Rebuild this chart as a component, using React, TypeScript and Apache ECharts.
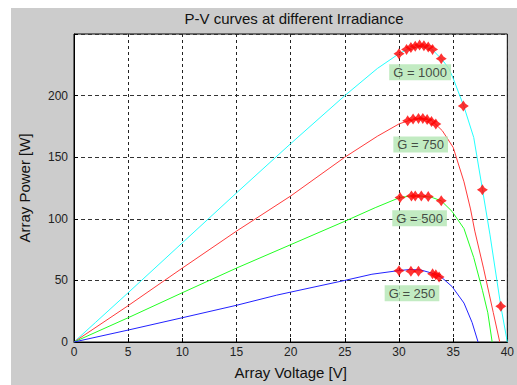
import React, { useEffect, useRef } from "react";
import * as echarts from "echarts";

const title = "P-V curves at different Irradiance";
const xName = "Array Voltage [V]";
const yName = "Array Power [W]";

const g1000V = [0, 2, 5, 10, 15, 20, 25, 28, 30, 31, 32, 33, 34, 34.6, 35, 36, 36.9, 37.7, 38.4, 39.4, 40];
const g1000P = [0, 16, 40, 80.5, 121, 161, 200, 222, 234, 238.5, 240, 238, 229, 222, 214, 191, 166, 124, 87, 29, 0];

const g750V = [0, 5, 10, 15, 20, 25, 28, 30, 31, 32, 33, 34, 35, 36, 36.6, 37, 37.8, 38.7, 39.3];
const g750P = [0, 29.5, 60, 90, 118.5, 150, 167, 177, 180, 181.5, 180, 171.5, 158, 130, 108, 90, 60, 24, 0];

const g500V = [0, 5, 10, 15, 20, 25, 27.8, 30, 31, 32, 33, 33.9, 34.9, 36, 36.9, 37.7, 38.2, 38.6];
const g500P = [0, 19.7, 40, 60, 79, 98, 109, 117, 118.5, 118.5, 117.5, 114.6, 106, 92, 68.5, 42, 23.7, 0];

const g250V = [0, 5, 10, 15, 18.7, 20, 25, 27.5, 30, 31, 32, 33, 33.9, 34.9, 36, 36.75, 37.3];
const g250P = [0, 9.7, 19.7, 29.8, 38, 40.5, 50, 55, 58, 58.8, 58.5, 56, 52.7, 45, 31.6, 15.8, 0];

const mpptV = [30, 30.7, 31.1, 31.5, 31.9, 32.3, 32.7, 33.1, 33.9, 35.94, 37.7, 39.4,
  30.8, 31.3, 31.8, 32.2, 32.6, 33.0, 33.4,
  30.1, 31.15, 31.5, 32.06, 32.7, 33.9,
  30, 31.1, 31.8, 33.1, 33.4, 33.7];
const mpptP = [234, 237.5, 239, 240, 241, 240.5, 239.5, 237.5, 230, 191.5, 123.5, 29,
  179.5, 181, 181.5, 181.5, 180.5, 179, 177,
  117.2, 118.5, 118.5, 118.5, 118, 114.6,
  57.9, 57.4, 57.4, 55.3, 54.5, 52.7];

const labelTexts = ["G = 1000", "G = 750", "G = 500", "G = 250"];
const labelV = [31.95, 32.0, 31.9, 31.2];
const labelP = [218.9, 160.4, 100.4, 39.5];

const xTicks = [0, 5, 10, 15, 20, 25, 30, 35, 40];
const yTicks = [0, 50, 100, 150, 200];

const FONT = "'Liberation Sans', Arial, sans-serif";

function pairs(v: number[], p: number[]) {
  return v.map((x, i) => [x, p[i]]);
}

export default function App() {
  const ref = useRef<HTMLDivElement>(null);
  useEffect(() => {
    document.body.style.margin = "0";
    const chart = echarts.init(ref.current!, null, { renderer: "svg" });
    const lineBase = (name: string, color: string, v: number[], p: number[]) => ({
      name,
      type: "line",
      data: pairs(v, p),
      showSymbol: false,
      symbol: "none",
      lineStyle: { color, width: 1 },
      z: 3,
    });
    chart.setOption({
      animation: false,
      backgroundColor: "#ffffff",
      graphic: [
        {
          type: "rect",
          shape: { x: 11, y: 8, width: 506, height: 377 },
          style: { fill: "#cccccc" },
          z: -100,
          silent: true,
        },
        {
          type: "text",
          x: 294,
          y: 18,
          style: {
            text: title,
            fill: "#111",
            font: `15px ${FONT}`,
            textAlign: "center",
            textVerticalAlign: "middle",
          },
          z: 10,
        },
      ],
      grid: {
        left: 74,
        top: 34,
        right: 3,
        bottom: 35,
        show: true,
        backgroundColor: "#ffffff",
        borderColor: "#000",
        borderWidth: 1,
      },
      xAxis: {
        type: "value",
        min: 0,
        max: 40,
        interval: 5,
        name: xName,
        nameLocation: "middle",
        nameGap: 23,
        nameTextStyle: { fontSize: 15, color: "#111", fontFamily: FONT },
        axisLine: { show: true, lineStyle: { color: "#000" } },
        axisTick: { show: true, inside: true, length: 4, lineStyle: { color: "#000" } },
        axisLabel: {
          fontSize: 12,
          color: "#222",
          fontFamily: FONT,
          margin: 4,
          formatter: (v: number) => (xTicks.includes(v) ? String(v) : ""),
        },
        splitLine: { show: true, lineStyle: { color: "#222", type: [3, 3], width: 1 } },
      },
      yAxis: {
        type: "value",
        min: 0,
        max: 250,
        interval: 50,
        name: yName,
        nameLocation: "middle",
        nameGap: 42,
        nameTextStyle: { fontSize: 15, color: "#111", fontFamily: FONT },
        axisLine: { show: true, lineStyle: { color: "#000" } },
        axisTick: { show: true, inside: true, length: 4, lineStyle: { color: "#000" } },
        axisLabel: {
          fontSize: 12,
          color: "#222",
          fontFamily: FONT,
          margin: 6,
          formatter: (v: number) => (yTicks.includes(v) ? String(v) : ""),
        },
        splitLine: { show: true, lineStyle: { color: "#333", type: [4, 3], width: 1 } },
      },
      series: [
        lineBase("G1000", "#22ffff", g1000V, g1000P),
        lineBase("G750", "#ff3b3b", g750V, g750P),
        lineBase("G500", "#22ff22", g500V, g500P),
        lineBase("G250", "#2222ff", g250V, g250P),
        {
          name: "MPPT",
          type: "scatter",
          data: pairs(mpptV, mpptP),
          symbol:
            "path://M0,-6 L2.4,-2.4 L6,0 L2.4,2.4 L0,6 L-2.4,2.4 L-6,0 L-2.4,-2.4 Z",
          symbolSize: 11,
          itemStyle: { color: "#ff0000" },
          z: 5,
        },
        {
          name: "labels",
          type: "scatter",
          data: labelV.map((v, i) => ({ value: [v, labelP[i]], name: labelTexts[i] })),
          symbolSize: 1,
          itemStyle: { color: "rgba(0,0,0,0)" },
          z: 6,
          label: {
            show: true,
            position: "inside",
            formatter: (p: any) => p.name,
            fontSize: 13,
            fontFamily: FONT,
            color: "#222",
            backgroundColor: "#b3e6b3",
            padding: [2, 4, 1, 4],
          },
        },
      ],
    });
    return () => chart.dispose();
  }, []);
  return <div ref={ref} style={{ width: 517, height: 385 }} />;
}
